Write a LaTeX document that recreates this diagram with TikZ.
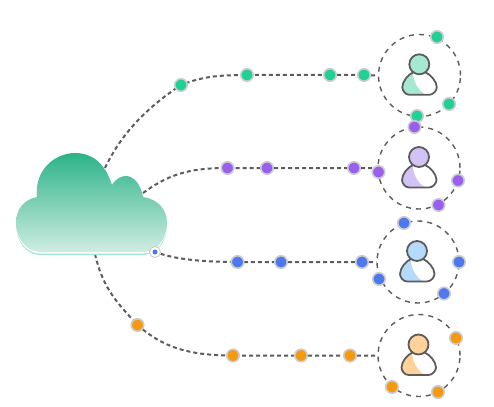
\documentclass[tikz,border=0pt]{standalone}
\usetikzlibrary{backgrounds}
\definecolor{linegray}{HTML}{5C5C5C}
\definecolor{dotrim}{HTML}{CCCCCC}
\definecolor{greendot}{HTML}{20D197}
\definecolor{purpledot}{HTML}{9B5FF0}
\definecolor{bluedot}{HTML}{4F78F0}
\definecolor{orangedot}{HTML}{F59A0E}
\definecolor{greenuser}{HTML}{A6E8D2}
\definecolor{purpleuser}{HTML}{D3C2F6}
\definecolor{blueuser}{HTML}{B5DAFC}
\definecolor{orangeuser}{HTML}{FDD39B}
\definecolor{cloudtop}{HTML}{2CB388}
\definecolor{cloudbase}{HTML}{D0EDE2}
\newcommand{\cloudpath}{(37,197) .. controls (34,170) and (55,153) .. (75,153)
  .. controls (92,153) and (105,163) .. (112,185)
  .. controls (116,178) and (122,176) .. (126,176)
  .. controls (134,176) and (141,185) .. (143,197)
  .. controls (158,199) and (167,210) .. (167,222)
  .. controls (167,238) and (158,252) .. (143,252)
  -- (40,252) .. controls (26,252) and (16,238) .. (16,222)
  .. controls (16,209) and (25,199) .. (37,197) -- cycle}
\begin{document}
\begin{tikzpicture}[
  x=1pt,
  y=-1pt,
  line cap=butt,
  line join=round,
  dot/.style={circle,draw=dotrim,line width=1.6pt,minimum size=12.5pt,inner sep=0pt},
  ring/.style={circle,draw=linegray,line width=1.4pt,dash pattern=on 5pt off 5pt,
    minimum size=82pt,inner sep=0pt},
  link/.style={draw=linegray,line width=2pt,dash pattern=on 4pt off 3pt},
  outline/.style={draw=linegray,line width=1.8pt}
]
  \useasboundingbox (0,0) rectangle (494,406);

  % cloud
  \fill[fill=greenuser,yshift=-3pt] \cloudpath;
  \fill[fill=white,yshift=-1.5pt] \cloudpath;
  \shade[top color=cloudtop,bottom color=cloudbase] \cloudpath;
  \coordinate (cloudgreen) at (105,168);
  \coordinate (cloudpurple) at (143,193);
  \coordinate (cloudorange) at (95,254);
  \node[circle,draw=dotrim,fill=white,line width=0.9pt,minimum size=11pt,inner sep=0pt] (blueport) at (155,252) {};
  \node[circle,fill=bluedot,minimum size=5pt,inner sep=0pt] (bluecore) at (155,252) {};

  % rings
  \node[ring] (ringa) at (419.5,75.5) {};
  \node[ring] (ringb) at (419,168) {};
  \node[ring] (ringc) at (418,262) {};
  \node[ring] (ringd) at (419,355.5) {};

  % users
  \foreach \ux/\uy/\ucol in {419.3/64.3/greenuser,419/157/purpleuser,
      417/251/blueuser,418.5/344.5/orangeuser} {
    \begin{scope}[shift={(\ux,\uy)}]
      \begin{scope}
        \clip (-10,30.5) -- (10,30.5) .. controls (14,30.5) and (17.5,26) .. (17.5,23)
          .. controls (17.5,17) and (11,10) .. (6,8) -- (-6,8)
          .. controls (-11,10) and (-17,17) .. (-17,23)
          .. controls (-17,26) and (-14,30.5) .. (-10,30.5) -- cycle;
        \fill[\ucol] (-20,5) -- (-7,5) .. controls (-6,17) and (-2,26) .. (7,31) -- (-20,31) -- cycle;
      \end{scope}
      \draw[outline] (-10,30.5) -- (10,30.5) .. controls (14,30.5) and (17.5,26) .. (17.5,23)
        .. controls (17.5,17) and (11,10) .. (6,8) -- (-6,8)
        .. controls (-11,10) and (-17,17) .. (-17,23)
        .. controls (-17,26) and (-14,30.5) .. (-10,30.5) -- cycle;
      \draw[outline,fill=\ucol] (0,0) circle (10);
    \end{scope}
  }

  % green row
  \foreach \dname/\dpos in {ga/{(181,85)},gb/{(247,75)},gc/{(330,75)},gd/{(364,75)},
      ge/{(437,37)},gf/{(449,104)},gg/{(417,116)}} {
    \node[dot,fill=greendot] (\dname) at \dpos {};
  }
  % purple row
  \foreach \dname/\dpos in {pa/{(227.5,168)},pb/{(267,168)},pc/{(354,168)},
      pd/{(378.5,172)},pe/{(414.5,127)},pf/{(458,180.5)},pg/{(438.5,205)}} {
    \node[dot,fill=purpledot] (\dname) at \dpos {};
  }
  % blue row
  \foreach \dname/\dpos in {ba/{(237.5,262)},bb/{(281,262)},bc/{(362,262)},
      bd/{(379,279)},be/{(404,223)},bf/{(459,262)},bg/{(444,293.5)}} {
    \node[dot,fill=bluedot] (\dname) at \dpos {};
  }
  % orange row
  \foreach \dname/\dpos in {oa/{(137.5,325)},ob/{(233,355.5)},oc/{(301,355.5)},
      od/{(350,355.5)},oe/{(456,338)},of/{(438,392)},og/{(392,387)}} {
    \node[dot,fill=orangedot] (\dname) at \dpos {};
  }

  \begin{scope}[on background layer]
    \draw[link] (cloudgreen) .. controls +(18,-38) and +(-30,20) .. (ga.center)
      .. controls +(20,-8) and +(-30,0) .. (gb.center) -- (gc) -- (gd) -- (ringa.west);
    \draw[link] (cloudpurple) .. controls +(25,-18) and +(-40,0) .. (pa.center)
      -- (pb) -- (pc) -- (ringb.west);
    \draw[link] (blueport) .. controls +(25,8) and +(-30,0) .. (ba.center)
      -- (bb) -- (bc) -- (ringc.west);
    \draw[link] (cloudorange) .. controls +(8,35) and +(-20,-22) .. (oa.center)
      .. controls +(25,22) and +(-45,0) .. (ob.center) -- (oc) -- (od) -- (ringd.west);
  \end{scope}
\end{tikzpicture}
\end{document}
